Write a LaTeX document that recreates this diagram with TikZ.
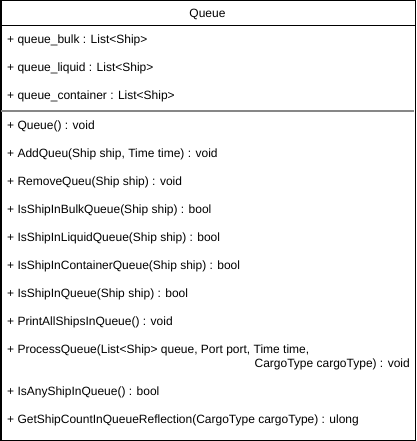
\documentclass[tikz,border=0pt]{standalone}
\usepackage{fontspec}
\setmainfont{Liberation Sans}
\begin{document}
\begin{tikzpicture}[x=1bp,y=-1bp,
  member/.style={anchor=west,inner sep=0pt,font=\fontsize{12bp}{14bp}\selectfont},
  ttl/.style={inner sep=0pt,font=\fontsize{12bp}{14bp}\selectfont},
  frame/.style={draw=black,line width=1bp},
  sep/.style={draw=black!47,line width=2bp}]
\useasboundingbox (0,0) rectangle (416,441);
\fill[white] (0,0) rectangle (416,441);
\node[frame,rectangle,minimum width=414bp,minimum height=439.5bp,inner sep=0pt,anchor=north west] (box) at (0.5,0.5) {};
\coordinate (tl) at (0.5,26);
\coordinate (tr) at (414.5,26);
\draw[frame] (tl) -- (tr);
\coordinate (sl) at (1,111);
\coordinate (sr) at (414,111);
\draw[sep] (sl) -- (sr);
\node[ttl] (title) at (207.5,14) {Queue};
\node[member] (a1) at (7,40) {+ queue\_bulk : List<Ship>};
\node[member] (a2) at (7,68) {+ queue\_liquid : List<Ship>};
\node[member] (a3) at (7,96) {+ queue\_container : List<Ship>};
\node[member] (m1) at (7,126) {+ Queue() : void};
\node[member] (m2) at (7,154) {+ AddQueu(Ship ship, Time time) : void};
\node[member] (m3) at (7,182) {+ RemoveQueu(Ship ship) : void};
\node[member] (m4) at (7,210) {+ IsShipInBulkQueue(Ship ship) : bool};
\node[member] (m5) at (7,238) {+ IsShipInLiquidQueue(Ship ship) : bool};
\node[member] (m6) at (7,266) {+ IsShipInContainerQueue(Ship ship) : bool};
\node[member] (m7) at (7,294) {+ IsShipInQueue(Ship ship) : bool};
\node[member] (m8) at (7,322) {+ PrintAllShipsInQueue() : void};
\node[member] (m9) at (7,350) {+ ProcessQueue(List<Ship> queue, Port port, Time time,};
\node[member,anchor=east] (m9b) at (410,364) {CargoType cargoType) : void};
\node[member] (m10) at (7,392) {+ IsAnyShipInQueue() : bool};
\node[member] (m11) at (7,420) {+ GetShipCountInQueueReflection(CargoType cargoType) : ulong};
\end{tikzpicture}
\end{document}
